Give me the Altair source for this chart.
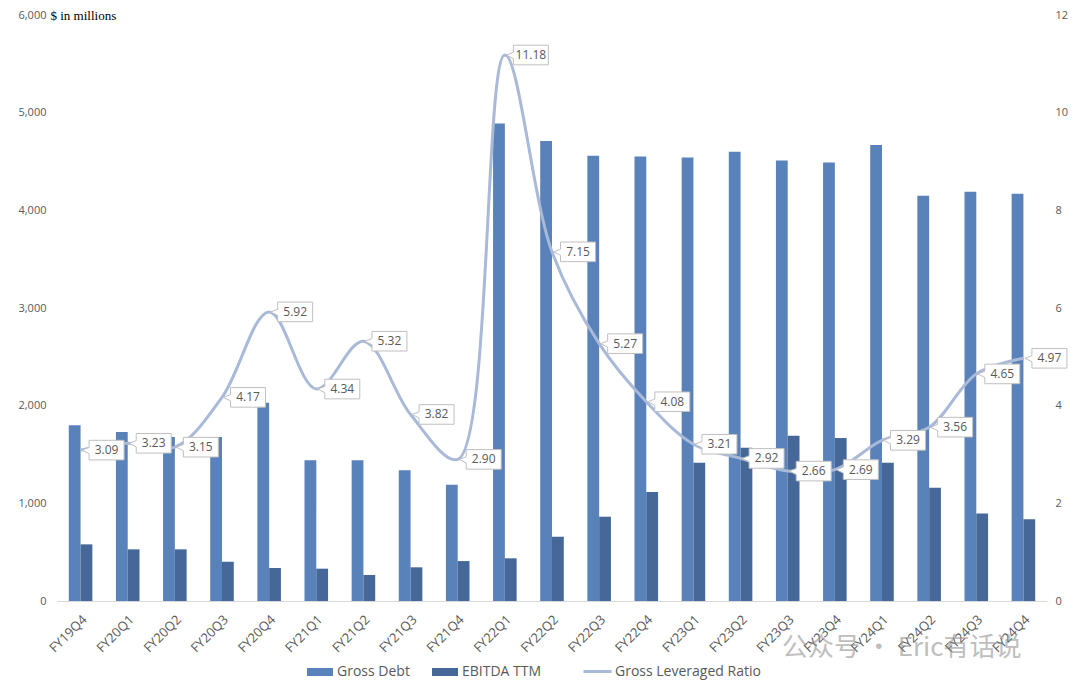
import altair as alt
import pandas as pd

quarters = ["FY19Q4", "FY20Q1", "FY20Q2", "FY20Q3", "FY20Q4", "FY21Q1", "FY21Q2",
            "FY21Q3", "FY21Q4", "FY22Q1", "FY22Q2", "FY22Q3", "FY22Q4", "FY23Q1",
            "FY23Q2", "FY23Q3", "FY23Q4", "FY24Q1", "FY24Q2", "FY24Q3", "FY24Q4"]
gross_debt = [1800, 1730, 1680, 1680, 2030, 1440, 1440, 1340, 1190, 4890, 4710,
              4560, 4550, 4540, 4600, 4510, 4490, 4670, 4150, 4190, 4170]
ebitda_ttm = [580, 529, 529, 402, 338, 331, 266, 345, 409, 437, 658,
              863, 1115, 1416, 1569, 1692, 1668, 1416, 1160, 897, 836]
ratio = [3.09, 3.23, 3.15, 4.17, 5.92, 4.34, 5.32, 3.82, 2.90, 11.18, 7.15,
         5.27, 4.08, 3.21, 2.92, 2.66, 2.69, 3.29, 3.56, 4.65, 4.97]
bar_series = ["Gross Debt", "EBITDA TTM"]
line_series = "Gross Leveraged Ratio"
left_ticks = [0, 1000, 2000, 3000, 4000, 5000, 6000]
right_ticks = [0, 2, 4, 6, 8, 10, 12]
watermark = "公众号 · Eric有话说"

bar_df = pd.DataFrame({
    "quarter": quarters * 2,
    "series": [bar_series[0]] * len(quarters) + [bar_series[1]] * len(quarters),
    "value": gross_debt + ebitda_ttm,
})
line_df = pd.DataFrame({
    "quarter": quarters,
    "ratio": ratio,
    "label": [f"{v:.2f}" for v in ratio],
    "series": [line_series] * len(quarters),
})

FONT = "Open Sans"
GREY = "#595959"

x_enc = alt.X(
    "quarter:N", sort=quarters,
    scale=alt.Scale(paddingInner=0.5, paddingOuter=0.25),
    axis=alt.Axis(title=None, labelAngle=-45, labelFont=FONT, labelFontSize=13,
                  labelColor=GREY, ticks=False, domainColor="#D9D9D9",
                  domainWidth=1.2, labelPadding=12, grid=False),
)

bars = alt.Chart(bar_df).mark_bar().encode(
    x=x_enc,
    xOffset=alt.XOffset("series:N", sort=bar_series),
    y=alt.Y("value:Q",
            scale=alt.Scale(domain=[0, 6000], nice=False),
            axis=alt.Axis(values=left_ticks, format=",.0f", title="$ in millions",
                          titleAngle=0, titleX=-7, titleY=0, titleAlign="left",
                          titleBaseline="middle", titleFont="Liberation Serif",
                          titleFontSize=13, titleFontWeight="normal",
                          titleColor="black", grid=False, domain=False,
                          ticks=False, labelPadding=11, labelColor=GREY,
                          labelFont=FONT, labelFontSize=11)),
    color=alt.Color("series:N", sort=bar_series,
                    scale=alt.Scale(domain=bar_series, range=["#5981BA", "#466898"]),
                    legend=alt.Legend(title=None, orient="none", legendX=250,
                                      legendY=644, direction="horizontal",
                                      symbolType="M-1,-0.31 H1 V0.31 H-1 Z",
                                      symbolSize=676, labelFont=FONT,
                                      labelFontSize=14, labelColor=GREY,
                                      columnPadding=22, labelOffset=4,
                                      symbolStrokeWidth=0)),
)

right_axis = alt.Axis(orient="right", values=right_ticks, title=None, grid=False,
                      domain=False, ticks=False, labelPadding=8, labelColor=GREY,
                      labelFont=FONT, labelFontSize=11)
y_right = alt.Y("ratio:Q", scale=alt.Scale(domain=[0, 12], nice=False), axis=right_axis)

line = alt.Chart(line_df).mark_line(interpolate="catmull-rom", strokeWidth=3).encode(
    x=alt.X("quarter:N", sort=quarters),
    y=y_right,
    stroke=alt.Stroke("series:N",
                      scale=alt.Scale(domain=[line_series], range=["#A9B9D8"]),
                      legend=alt.Legend(title=None, orient="none", legendX=525,
                                        legendY=641, symbolType="stroke",
                                        symbolSize=784, symbolStrokeWidth=3,
                                        labelFont=FONT, labelFontSize=14,
                                        labelColor=GREY, labelOffset=2)),
)

box_path = ("M-1,-0.56 H1 V0.56 H-1 V0.2 L-1.4,0 L-1,-0.15 Z")
boxes = alt.Chart(line_df).mark_point(
    shape=box_path, size=1225, filled=True, fill="white", stroke="#BFBFBF",
    strokeWidth=1, opacity=1, xOffset=26,
).encode(
    x=alt.X("quarter:N", sort=quarters),
    y=y_right,
)

texts = alt.Chart(line_df).mark_text(
    font=FONT, fontSize=12, color=GREY, dx=26, align="center", baseline="middle",
).encode(
    x=alt.X("quarter:N", sort=quarters),
    y=y_right,
    text="label:N",
)

wm = alt.Chart(pd.DataFrame({"t": [watermark]})).mark_text(
    font="Noto Sans CJK SC", fontSize=26, color="#8a8a8a", opacity=0.55,
    align="left", baseline="middle",
).encode(text="t:N", x=alt.value(725), y=alt.value(633))

right_layer = alt.layer(line, boxes, texts)

chart = alt.layer(bars, right_layer, wm).resolve_scale(
    y="independent", color="independent", stroke="independent"
).properties(
    width=990, height=586,
    autosize=alt.AutoSizeParams(type="none"),
    padding={"left": 57, "top": 15, "right": 33, "bottom": 89},
    background="white",
).configure_view(stroke=None)

chart.save("out.html", embed_options={"renderer": "svg", "actions": False})
